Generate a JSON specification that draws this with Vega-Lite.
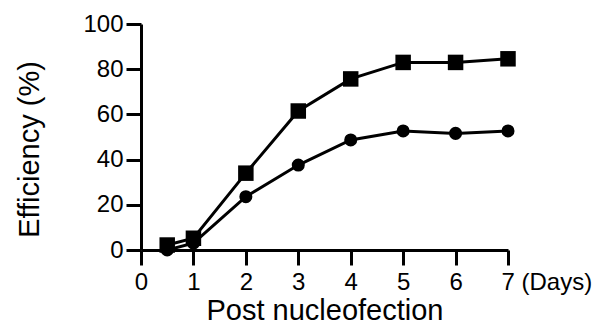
{
  "$schema": "https://vega.github.io/schema/vega-lite/v6.json",
  "autosize": {"type": "none"},
  "padding": {"left": 141, "top": 24, "right": 92, "bottom": 86},
  "width": 367,
  "height": 226,
  "background": "white",
  "config": {
    "view": {"stroke": null},
    "axis": {
      "domainColor": "black",
      "domainWidth": 3,
      "tickColor": "black",
      "tickWidth": 3,
      "grid": false,
      "labelFont": "Liberation Sans",
      "labelFontSize": 24,
      "labelColor": "black",
      "titleFont": "Liberation Sans",
      "titleFontSize": 29,
      "titleFontWeight": "normal",
      "titleColor": "black"
    }
  },
  "data": {
    "values": [
      {"day": 0.5, "eff": 2.2, "series": "A"},
      {"day": 1, "eff": 5.2, "series": "A"},
      {"day": 2, "eff": 34, "series": "A"},
      {"day": 3, "eff": 61.5, "series": "A"},
      {"day": 4, "eff": 75.7, "series": "A"},
      {"day": 5, "eff": 83, "series": "A"},
      {"day": 6, "eff": 83, "series": "A"},
      {"day": 7, "eff": 84.6, "series": "A"},
      {"day": 0.5, "eff": 0, "series": "B"},
      {"day": 1, "eff": 3, "series": "B"},
      {"day": 2, "eff": 23.6, "series": "B"},
      {"day": 3, "eff": 37.6, "series": "B"},
      {"day": 4, "eff": 48.7, "series": "B"},
      {"day": 5, "eff": 52.7, "series": "B"},
      {"day": 6, "eff": 51.6, "series": "B"},
      {"day": 7, "eff": 52.7, "series": "B"}
    ]
  },
  "encoding": {
    "x": {
      "field": "day",
      "type": "quantitative",
      "scale": {"domain": [0, 7], "nice": false},
      "axis": {
        "values": [0, 1, 2, 3, 4, 5, 6, 7],
        "title": "Post nucleofection",
        "tickSize": 15,
        "labelPadding": 5,
        "titlePadding": 2,
        "labelExpr": "datum.value == 7 ? '7 (Days)' : datum.label",
        "labelAlign": {"expr": "datum.value == 7 ? 'left' : 'center'"},
        "labelOffset": {"expr": "datum.value == 7 ? -7 : 0"},
        "labelFlush": false,
        "labelOverlap": false
      }
    },
    "y": {
      "field": "eff",
      "type": "quantitative",
      "scale": {"domain": [0, 100], "nice": false},
      "axis": {
        "values": [0, 20, 40, 60, 80, 100],
        "title": "Efficiency (%)",
        "tickSize": 15,
        "labelPadding": 3,
        "titlePadding": 38,
        "titleY": 125
      }
    },
    "detail": {"field": "series"}
  },
  "layer": [
    {
      "mark": {"type": "line", "color": "black", "strokeWidth": 3, "clip": false}
    },
    {
      "mark": {"type": "point", "filled": true, "color": "black", "opacity": 1, "clip": false},
      "encoding": {
        "shape": {
          "field": "series",
          "type": "nominal",
          "scale": {"domain": ["A", "B"], "range": ["square", "circle"]},
          "legend": null
        },
        "size": {
          "field": "series",
          "type": "nominal",
          "scale": {"domain": ["A", "B"], "range": [240, 170]},
          "legend": null
        }
      }
    }
  ]
}
